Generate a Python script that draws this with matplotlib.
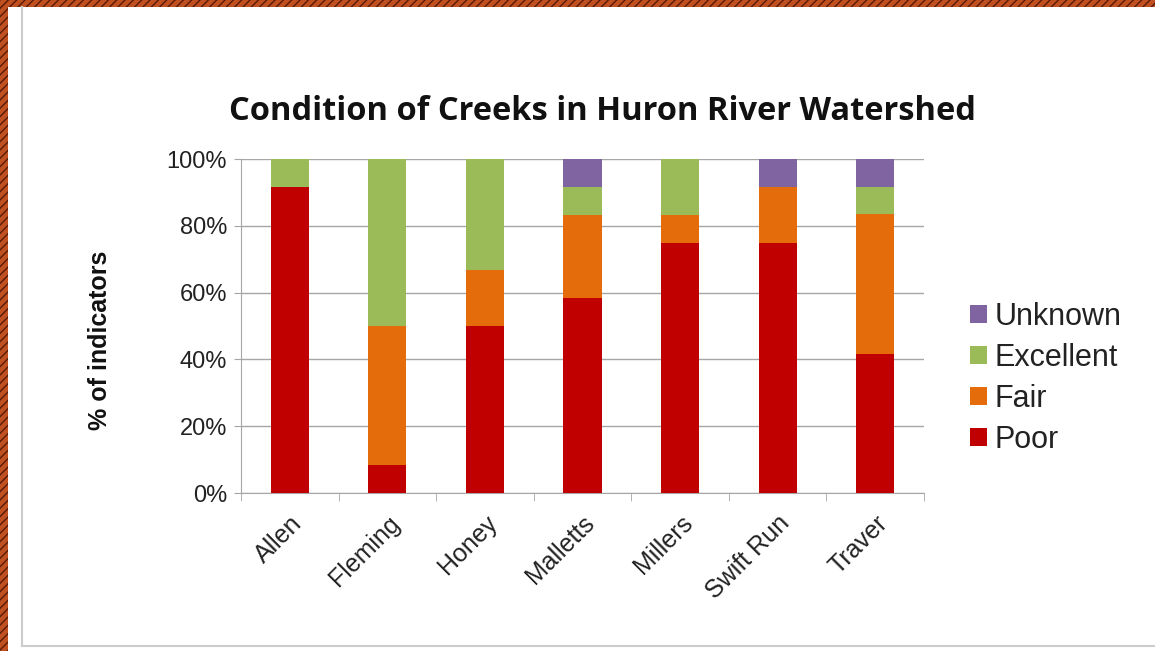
import matplotlib
matplotlib.use("Agg")
from matplotlib import pyplot as plt
from matplotlib.patches import Rectangle
import numpy as np

creeks = ["Allen", "Fleming", "Honey", "Malletts", "Millers", "Swift Run", "Traver"]
poor = [91.7, 8.3, 50.0, 58.3, 75.0, 75.0, 41.7]
fair = [0.0, 41.7, 16.7, 25.0, 8.3, 16.7, 41.7]
excellent = [8.3, 50.0, 33.3, 8.3, 16.7, 0.0, 8.3]
unknown = [0.0, 0.0, 0.0, 8.3, 0.0, 8.3, 8.3]
yticks = [0, 20, 40, 60, 80, 100]

series = [("Poor", poor, "#C00000"),
          ("Fair", fair, "#E46C0A"),
          ("Excellent", excellent, "#9BBB59"),
          ("Unknown", unknown, "#8064A2")]

fig = plt.figure(figsize=(11.55, 6.51), dpi=100)
W, H = 1155, 651

# brown hatched border on top and left
brd = dict(facecolor="#C0501F", edgecolor="#5a1a08", hatch="////", linewidth=0,
           transform=fig.transFigure, zorder=0)
fig.patches.append(Rectangle((0, 1 - 7 / H), 1, 7 / H, **brd))
fig.patches.append(Rectangle((0, 0), 8 / W, 1, **brd))
# thin gray frame of the slide
fig.add_artist(plt.Line2D([22 / W, 22 / W], [5 / H, 1 - 7 / H], color="#cccccc", lw=1.5))
fig.add_artist(plt.Line2D([22 / W, 1], [5 / H, 5 / H], color="#cccccc", lw=1.5))

ax = fig.add_axes([241 / W, 1 - 493 / H, 683 / W, 334 / H])
x = np.arange(len(creeks))
bottom = np.zeros(len(creeks))
for name, vals, col in series:
    ax.bar(x, vals, 0.39, bottom=bottom, color=col, label=name, zorder=3)
    bottom += np.array(vals)

ax.set_xlim(-0.5, len(creeks) - 0.5)
ax.set_ylim(0, 100)
ax.set_yticks(yticks)
ax.set_yticklabels([f"{v}%" for v in yticks], fontsize=17, family="Liberation Sans",
                   color="#222222")
ax.yaxis.grid(True, color="#a6a6a6", lw=1, zorder=0)
ax.set_xticks(x)
ax.set_xticklabels(creeks, rotation=45, ha="right", rotation_mode="anchor",
                   fontsize=18, family="Liberation Sans", color="#222222")
for s in ["top", "right"]:
    ax.spines[s].set_visible(False)
ax.spines["left"].set_color("#a6a6a6")
ax.spines["bottom"].set_color("#a6a6a6")
ax.tick_params(axis="y", length=5, color="#a6a6a6", pad=5)
ax.set_xticks(np.arange(-0.5, len(creeks), 1), minor=True)
ax.tick_params(axis="x", which="major", length=0, pad=13)
ax.tick_params(axis="x", which="minor", length=6, color="#a6a6a6")

fig.text(100 / W, 1 - 340 / H, "% of indicators", rotation=90, ha="center", va="center",
         fontsize=18, fontweight="bold", family="Liberation Sans", color="#111111")
fig.text(602 / W, 1 - 112 / H, "Condition of Creeks in Huron River Watershed",
         ha="center", va="center", fontsize=23.5, fontweight="bold", family="Open Sans",
         color="#111111")

h, l = ax.get_legend_handles_labels()
ax.legend(h[::-1], l[::-1], loc="center left", bbox_to_anchor=(1.067, 0.344),
          frameon=False, prop={"family": "Liberation Sans", "size": 22},
          handlelength=0.55, handleheight=0.55, handletextpad=0.25, labelspacing=0.36,
          borderaxespad=0, borderpad=0, labelcolor="#222222")

fig.savefig("out.png", dpi=100)
